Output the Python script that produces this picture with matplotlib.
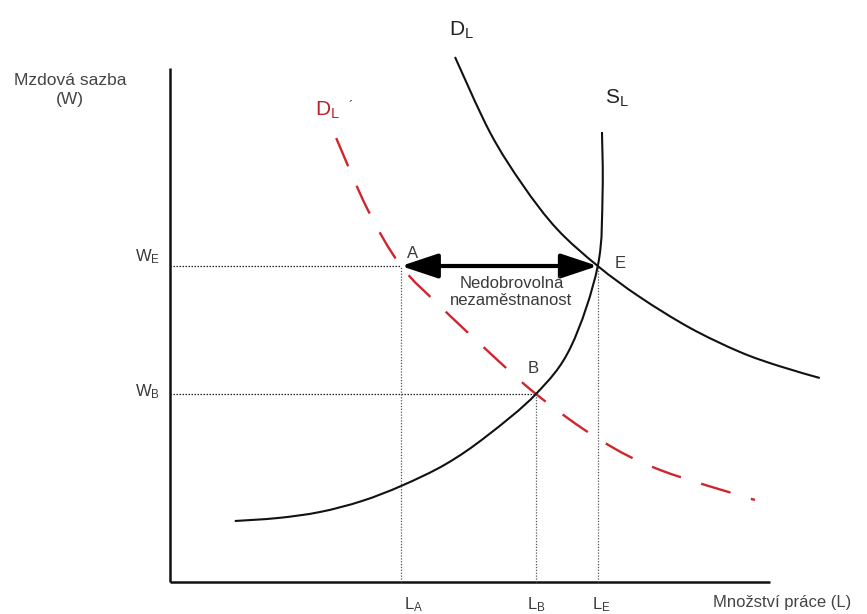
import matplotlib
matplotlib.use("Agg")
import matplotlib.pyplot as plt
from matplotlib.patches import FancyArrowPatch, PathPatch
from matplotlib.path import Path

plt.rcParams['font.family'] = ['Liberation Sans', 'DejaVu Sans']
plt.rcParams['mathtext.fontset'] = 'custom'
plt.rcParams['mathtext.rm'] = 'Liberation Sans'
plt.rcParams['mathtext.it'] = 'Liberation Sans'

# ---- data (labour quantity L, wage W) ----
L_A, L_B, L_E = 38.5, 61.0, 71.3
W_E, W_B = 63.2, 37.6

DL_x = [47.5, 53.3, 58.8, 64.5, 71.3, 78.3, 86.7, 95.0, 101.5, 108.3]
DL_y = [105.0, 90.0, 79.4, 70.6, 63.2, 57.0, 50.8, 46.0, 43.2, 40.8]

SL_x = [10.8, 18.0, 25.0, 32.0, 38.7, 46.0, 52.8, 61.0, 66.8, 71.3, 72.1, 72.0]
SL_y = [12.2, 12.8, 14.0, 16.2, 19.3, 23.6, 29.2, 37.6, 47.0, 63.2, 78.0, 90.0]

DLp_x = [27.7, 32.9, 38.5, 45.0, 51.7, 61.0, 71.7, 81.7, 97.5]
DLp_y = [88.8, 74.6, 63.2, 55.2, 47.6, 37.6, 28.4, 22.4, 16.4]

L_max, W_max = 100.0, 102.8

ink = '#111111'
txt = '#3a3a3a'
red = '#d0252f'


def smooth_path(xs, ys):
    """Catmull-Rom through the read points, drawn as cubic Bezier segments."""
    pts = list(zip(xs, ys))
    verts = [pts[0]]
    codes = [Path.MOVETO]
    n = len(pts)
    for i in range(n - 1):
        p0 = pts[i - 1] if i > 0 else pts[i]
        p1 = pts[i]
        p2 = pts[i + 1]
        p3 = pts[i + 2] if i + 2 < n else pts[i + 1]
        c1 = (p1[0] + (p2[0] - p0[0]) / 6.0, p1[1] + (p2[1] - p0[1]) / 6.0)
        c2 = (p2[0] - (p3[0] - p1[0]) / 6.0, p2[1] - (p3[1] - p1[1]) / 6.0)
        verts += [c1, c2, p2]
        codes += [Path.CURVE4] * 3
    return Path(verts, codes)


fig = plt.figure(figsize=(8.67, 6.14), dpi=100)
ax = fig.add_axes([0, 0, 1, 1])
ax.set_xlim(-28.33, 116.17)
ax.set_ylim(-6.4, 116.4)
ax.axis('off')

# axes lines
ax.plot([0, L_max], [0, 0], color=ink, lw=1.8, solid_capstyle='butt')
ax.plot([0, 0], [0, W_max], color=ink, lw=1.8, solid_capstyle='butt')

# dotted guide lines
dot = dict(color='#222222', lw=0.9, ls=(0, (1.2, 1.2)))
ax.plot([0, L_A], [W_E, W_E], **dot)
ax.plot([0, L_B], [W_B, W_B], **dot)
dotv = dict(color='#555555', lw=0.9, ls=(0, (1, 1.3)))
ax.plot([L_A, L_A], [0, W_E], **dotv)
ax.plot([L_B, L_B], [0, W_B], **dotv)
ax.plot([L_E, L_E], [0, W_E], **dotv)

# curves
ax.add_patch(PathPatch(smooth_path(DLp_x, DLp_y), fill=False, edgecolor=red,
                       lw=1.7, ls=(0, (13, 9))))
ax.add_patch(PathPatch(smooth_path(DL_x, DL_y), fill=False, edgecolor=ink, lw=1.5))
ax.add_patch(PathPatch(smooth_path(SL_x, SL_y), fill=False, edgecolor=ink, lw=1.5))

# double arrow A <-> E
arr = FancyArrowPatch((L_A, W_E), (L_E, W_E),
                      arrowstyle='<|-|>,head_length=1.5,head_width=0.5',
                      mutation_scale=15, lw=3, color='black',
                      shrinkA=0, shrinkB=0)
ax.add_patch(arr)

# labels
ax.text(-16.7, 98.4, 'Mzdová sazba\n(W)', ha='center', va='center',
        fontsize=12.5, color='#444444', linespacing=1.35)
ax.text(-1.7, 65.0, r'$\mathrm{W_E}$', ha='right', va='center', fontsize=12, color=txt)
ax.text(-1.7, 38.0, r'$\mathrm{W_B}$', ha='right', va='center', fontsize=12, color=txt)
ax.text(39.0, -4.6, r'$\mathrm{L_A}$', ha='left', va='center', fontsize=12, color=txt)
ax.text(59.5, -4.6, r'$\mathrm{L_B}$', ha='left', va='center', fontsize=12, color=txt)
ax.text(70.3, -4.6, r'$\mathrm{L_E}$', ha='left', va='center', fontsize=12, color=txt)
ax.text(90.5, -4.0, 'Množství práce (L)', ha='left', va='center', fontsize=12, color='#444444')

ax.text(46.5, 110.4, r'$\mathrm{D_L}$', ha='left', va='center', fontsize=15, color='#222222')
ax.text(72.5, 96.8, r'$\mathrm{S_L}$', ha='left', va='center', fontsize=15, color='#222222')
ax.text(24.2, 94.4, r'$\mathrm{D_L}$', ha='left', va='center', fontsize=15, color='#b8232c')
ax.text(29.7, 95.0, '´', ha='left', va='center', fontsize=9, color='#333333')

ax.text(40.5, 65.8, 'A', ha='center', va='center', fontsize=12, color=txt)
ax.text(75.0, 63.8, 'E', ha='center', va='center', fontsize=12, color=txt)
ax.text(60.5, 42.8, 'B', ha='center', va='center', fontsize=12, color=txt)
ax.text(56.9, 58.0, 'Nedobrovolná\nnezaměstnanost', ha='center', va='center',
        fontsize=12, color=txt, linespacing=1.2)

fig.savefig('out.png', dpi=100)
